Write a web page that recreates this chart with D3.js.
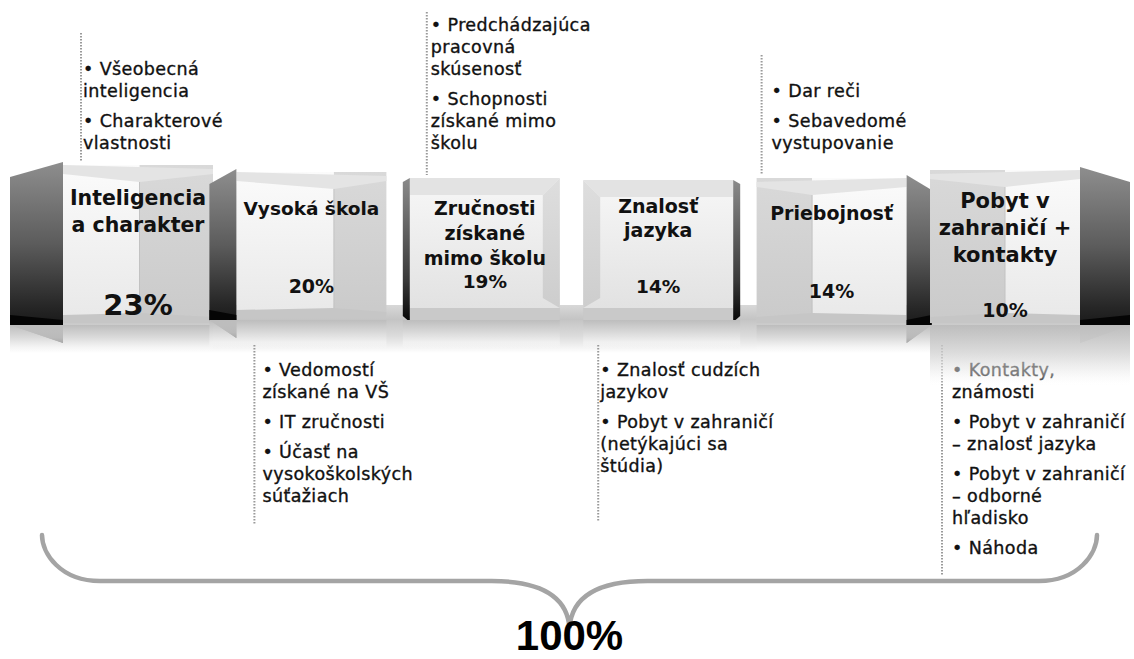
<!DOCTYPE html>
<html><head><meta charset="utf-8">
<script src="https://cdn.jsdelivr.net/npm/d3@7"></script>
<style>html,body{margin:0;padding:0;background:#fff;} svg{display:block;}</style>
</head><body>
<svg id="chart" width="1134" height="659"></svg>
<script>
// ---------- data ----------
const categories = ["Inteligencia a charakter","Vysoká škola","Zručnosti získané mimo školu","Znalosť jazyka","Priebojnosť","Pobyt v zahraničí + kontakty"];
const shares = [23, 20, 19, 14, 14, 10];
const labelLines = [["Inteligencia","a charakter"],["Vysoká škola"],["Zručnosti","získané","mimo školu"],["Znalosť","jazyka"],["Priebojnosť"],["Pobyt v","zahraničí +","kontakty"]];
const notesAbove = [
  [["• Všeobecná","inteligencia"],["• Charakterové","vlastnosti"]],
  null,
  [["• Predchádzajúca","pracovná","skúsenosť"],["• Schopnosti","získané mimo","školu"]],
  null,
  [["• Dar reči"],["• Sebavedomé","vystupovanie"]],
  null
];
const notesBelow = [
  null,
  [["• Vedomostí","získané na VŠ"],["• IT zručnosti"],["• Účasť na","vysokoškolských","súťažiach"]],
  null,
  [["• Znalosť cudzích","jazykov"],["• Pobyt v zahraničí","(netýkajúci sa","štúdia)"]],
  null,
  [["• Kontakty,","známosti"],["• Pobyt v zahraničí","– znalosť jazyka"],["• Pobyt v zahraničí","– odborné","hľadisko"],["• Náhoda"]]
];

// ---------- layout / style ----------
const L = {
  frontRange: [63, 1080], padInner: 0.135,
  top:    [165, 172, 178, 180, 178, 170],
  bottom: [323, 318, 320, 320, 323, 323],
  side:   [-53, -27, -7, 7, 25, 50],
  kind:   ["open","open","bevel","bevel","open","open"],
  split:  [0.51, 0.65, 0, 0, 0.37, 0.5],
  grayRight: [true, true, false, false, false, false],
  labelSize: [20.5, 18.5, 19, 19, 19, 21],
  labelY:    [205, 215, 215, 213, 220, 208],
  labelGap:  [27, 0, 25, 24, 0, 27],
  pctY:      [315, 293, 288, 293, 298, 317],
  pctSize:   [29, 19, 18.5, 18.5, 19, 19],
  lineOff:   [18, 18, 17, 15, 5, 12],
  textOff:   [2, 8, 4, 2, 10, 10],
  reflH:     [28, 28, 28, 28, 28, 62],
  noteSize: 17.5, noteLH: 22, noteGap: 8, aboveLast: 149, belowFirst: 376,
  brace: {x0: 42, x1: 1097, yTop: 535, yMid: 581, yTip: 628}
};
const FONT = "'DejaVu Sans', Verdana, sans-serif";

const svg = d3.select("#chart");
const defs = svg.append("defs");
function lg(id, stops, horiz) {
  const g = defs.append("linearGradient").attr("id", id)
    .attr("x1", 0).attr("y1", 0).attr("x2", horiz ? 1 : 0).attr("y2", horiz ? 0 : 1);
  stops.forEach(([o, c, op]) => g.append("stop").attr("offset", o).attr("stop-color", c).attr("stop-opacity", op == null ? 1 : op));
}
lg("shelf", [[0,"#d8d8d8"],[0.3,"#c4c4c4"],[0.65,"#dcdcdc"],[1,"#ffffff"]]);
lg("sideDark", [[0,"#8e8e8e"],[0.45,"#5c5c5c"],[0.8,"#262626"],[1,"#0c0c0c"]]);
lg("frontWhite", [[0,"#fbfbfb"],[1,"#e8e8e8"]]);
lg("frontGray", [[0,"#d9d9d9"],[1,"#cacaca"]]);
lg("bevelFace", [[0,"#f7f7f7"],[1,"#e2e2e2"]]);
lg("bevelSide", [[0,"#dedede"],[1,"#cdcdcd"]]);
lg("refl", [[0,"#bdbdbd",1],[0.45,"#dadada",0.85],[0.8,"#f6f6f6",0.6],[1,"#ffffff",0]]);
lg("edgeDark", [[0,"#8a8a8a"],[0.7,"#3a3a3a"],[1,"#050505"]]);

const x = d3.scaleBand().domain(categories).range(L.frontRange).paddingInner(L.padInner).paddingOuter(0);
const fw = x.bandwidth();

// shelf band behind boxes
svg.append("rect").attr("x", L.brace.x0 - 32).attr("y", 305).attr("width", 1120).attr("height", 48).attr("fill", "url(#shelf)");

const poly = pts => pts.map(p => p.join(",")).join(" ");

categories.forEach((c, i) => {
  const g = svg.append("g").attr("class", "box");
  const fx0 = x(c), fx1 = fx0 + fw, top = L.top[i], bot = L.bottom[i], d = L.side[i];
  const edgeX = d < 0 ? fx0 : fx1, farX = edgeX + d;
  if (L.kind[i] === "open") {
    const sx = fx0 + fw * L.split[i];
    const ceil = top + 17, floor = bot - 10;
    if (L.grayRight[i]) {
      g.append("rect").attr("x", fx0).attr("y", top).attr("width", sx - fx0).attr("height", bot - top).attr("fill", "url(#frontWhite)");
      g.append("rect").attr("x", sx).attr("y", top).attr("width", fx1 - sx).attr("height", bot - top).attr("fill", "url(#frontGray)");
      g.append("polygon").attr("points", poly([[fx0, top], [fx1, top + 4], [fx1, top + 9], [sx, ceil], [fx0, top + 9]])).attr("fill", "#e4e4e4");
      g.append("polygon").attr("points", poly([[fx0, bot], [fx0, floor + 2], [sx, floor], [fx1, floor + 4], [fx1, bot]])).attr("fill", "#c6c6c6");
    } else {
      g.append("rect").attr("x", fx0).attr("y", top).attr("width", sx - fx0).attr("height", bot - top).attr("fill", "url(#frontGray)");
      g.append("rect").attr("x", sx).attr("y", top).attr("width", fx1 - sx).attr("height", bot - top).attr("fill", "url(#frontWhite)");
      g.append("polygon").attr("points", poly([[fx0, top + 4], [fx1, top], [fx1, top + 9], [sx, ceil], [fx0, top + 9]])).attr("fill", "#e4e4e4");
      g.append("polygon").attr("points", poly([[fx0, bot], [fx0, floor + 4], [sx, floor], [fx1, floor + 2], [fx1, bot]])).attr("fill", "#c6c6c6");
    }
    g.append("line").attr("x1", sx).attr("x2", sx).attr("y1", ceil).attr("y2", floor).attr("stroke", "#c2c2c2").attr("stroke-width", 1);
    // dark side
    g.append("polygon").attr("points", poly([[edgeX, top - 3], [farX, top + 12], [farX, bot + 2], [edgeX, bot + 20]])).attr("fill", "url(#sideDark)");
    g.append("polygon").attr("points", poly([[edgeX, bot - 3], [farX, bot - 8], [farX, bot + 2], [edgeX, bot + 20]])).attr("fill", "#050505");
  } else {
    const bv = 17, bb = bot - 12;
    g.append("rect").attr("x", fx0).attr("y", top).attr("width", fw).attr("height", bb - top).attr("fill", "url(#bevelFace)");
    if (d < 0) {
      g.append("polygon").attr("points", poly([[fx1, top], [fx1, bb], [fx1 - bv, bb - 10], [fx1 - bv, top + bv]])).attr("fill", "url(#bevelSide)");
      g.append("polygon").attr("points", poly([[fx0, top], [fx1, top], [fx1 - bv, top + bv], [fx0, top + bv]])).attr("fill", "#e3e3e3");
    } else {
      g.append("polygon").attr("points", poly([[fx0, top], [fx0, bb], [fx0 + bv, bb - 10], [fx0 + bv, top + bv]])).attr("fill", "url(#bevelSide)");
      g.append("polygon").attr("points", poly([[fx0, top], [fx1, top], [fx1, top + bv], [fx0 + bv, top + bv]])).attr("fill", "#e3e3e3");
    }
    g.append("rect").attr("x", fx0).attr("y", bb).attr("width", fw).attr("height", bot - bb).attr("fill", "#c9c9c9");
    g.append("polygon").attr("points", poly([[farX, top + 4], [edgeX, top], [edgeX, bot + 2], [farX, bot - 4]])).attr("fill", "url(#edgeDark)");
  }
  // reflection under the box
  const rx0 = Math.min(fx0, farX), rx1 = Math.max(fx1, farX);
  g.append("rect").attr("x", rx0).attr("y", bot + (L.kind[i] === "open" ? 2 : 0)).attr("width", rx1 - rx0).attr("height", L.reflH[i]).attr("fill", "url(#refl)");

  // labels
  const cx = fx0 + fw / 2;
  labelLines[i].forEach((t, k) => {
    svg.append("text").attr("x", cx).attr("y", L.labelY[i] + k * L.labelGap[i])
      .attr("text-anchor", "middle").attr("font-family", FONT).attr("font-weight", "bold")
      .attr("font-size", L.labelSize[i]).attr("fill", "#111").text(t);
  });
  svg.append("text").attr("x", cx).attr("y", L.pctY[i]).attr("text-anchor", "middle")
    .attr("font-family", FONT).attr("font-weight", "bold").attr("font-size", L.pctSize[i])
    .attr("fill", "#111").text(shares[i] + "%");
});

// notes
function layoutNotes(notes) {
  const out = []; let y = 0;
  notes.forEach((b, bi) => {
    if (bi > 0) y += L.noteGap;
    b.forEach((t, li) => { out.push({t, y}); y += L.noteLH; });
  });
  return out; // y relative to first baseline
}
function drawNotes(notes, i, above) {
  if (!notes) return;
  const items = layoutNotes(notes);
  const span = items[items.length - 1].y;
  const y0 = above ? L.aboveLast - span : L.belowFirst;
  const lx = x(categories[i]) + L.lineOff[i];
  const y1 = above ? Math.max(12, y0 - 42) : 345;
  const y2 = above ? L.top[i] - 3 : Math.max(y0 + span + 22, 522);
  svg.append("line").attr("x1", lx).attr("x2", lx).attr("y1", y1).attr("y2", y2)
    .attr("stroke", "#9a9a9a").attr("stroke-width", 2).attr("stroke-dasharray", "1.5,1.5");
  items.forEach(it => {
    svg.append("text").attr("x", lx + L.textOff[i]).attr("y", y0 + it.y)
      .attr("font-family", FONT).attr("font-size", L.noteSize).attr("letter-spacing", 0.4)
      .attr("fill", "#111").attr("stroke", "#111").attr("stroke-width", 0.35).text(it.t);
  });
}
categories.forEach((c, i) => { drawNotes(notesAbove[i], i, true); drawNotes(notesBelow[i], i, false); });

// fade the top of notes lying in the last box's reflection
{
  const i = 5, fx0 = x(categories[i]);
  svg.append("rect").attr("x", fx0).attr("y", L.bottom[i] + 2).attr("width", fw + L.side[i]).attr("height", L.reflH[i])
    .attr("fill", "url(#refl)").attr("opacity", 0.75);
}

// brace
const B = L.brace, mid = (B.x0 + B.x1) / 2;
const p = d3.path();
p.moveTo(B.x0, B.yTop);
p.bezierCurveTo(B.x0, B.yMid - 28, B.x0 + 18, B.yMid, B.x0 + 58, B.yMid);
p.lineTo(mid - 78, B.yMid);
p.bezierCurveTo(mid - 25, B.yMid, mid - 2, B.yMid + 18, mid, B.yTip);
p.bezierCurveTo(mid + 2, B.yMid + 18, mid + 25, B.yMid, mid + 78, B.yMid);
p.lineTo(B.x1 - 58, B.yMid);
p.bezierCurveTo(B.x1 - 18, B.yMid, B.x1, B.yMid - 28, B.x1, B.yTop);
svg.append("path").attr("d", p.toString()).attr("fill", "none").attr("stroke", "#a4a4a4").attr("stroke-width", 4.5).attr("stroke-linecap", "round");

svg.append("text").attr("x", mid).attr("y", 650).attr("text-anchor", "middle")
  .attr("font-family", "'Liberation Sans', Arial, sans-serif").attr("font-weight", "bold")
  .attr("font-size", 42).attr("fill", "#000").text(d3.sum(shares) + "%");
</script>
</body></html>
